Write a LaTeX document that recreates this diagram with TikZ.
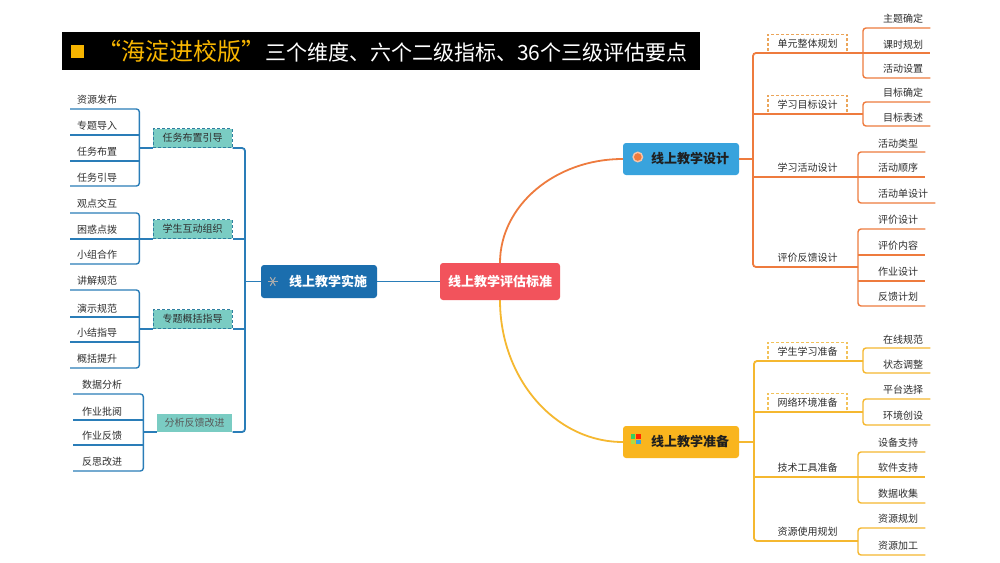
\documentclass[tikz,border=0pt]{standalone}
\usepackage{fontspec}
\setmainfont{Noto Sans CJK SC}
\usetikzlibrary{calc}
\pgfdeclarelayer{background}
\pgfdeclarelayer{paper}
\pgfsetlayers{paper,background,main}
\definecolor{cGold}{HTML}{F7B500}
\definecolor{cRed}{HTML}{F2535C}
\definecolor{cBlueNode}{HTML}{1B6EAE}
\definecolor{cBlueLine}{HTML}{2A7DB8}
\definecolor{cSky}{HTML}{38A3DD}
\definecolor{cYelNode}{HTML}{F9B51E}
\definecolor{cOrange}{HTML}{EE7B3E}
\definecolor{cYel}{HTML}{F5B830}
\definecolor{cTeal}{HTML}{7ACCC3}
\definecolor{cTealDash}{HTML}{2E7FA0}
\definecolor{cOrDash}{HTML}{EBA55A}
\definecolor{cYeDash}{HTML}{F2C25A}
\definecolor{cTxt}{HTML}{2E2E2E}
\begin{document}
\begin{tikzpicture}[x=1pt,y=-1pt,
  bline/.style={draw=cBlueLine, line width=1.8pt},
  bthin/.style={draw=cBlueLine, line width=1.4pt},
  oline/.style={draw=cOrange, line width=1.8pt},
  othin/.style={draw=cOrange, line width=1.4pt},
  yline/.style={draw=cYel, line width=1.8pt},
  ythin/.style={draw=cYel, line width=1.4pt},
  mainnode/.style={rounded corners=3pt, minimum width=116pt, minimum height=33pt, inner sep=0pt, font=\fontsize{13}{15}\selectfont\bfseries},
  leafL/.style={anchor=south west, text width=55pt, inner xsep=7pt, inner ysep=4pt, align=left, text=cTxt, font=\fontsize{10}{12}\selectfont},
  leafLb/.style={leafL, text width=52pt, inner xsep=9pt},
  leafR/.style={anchor=south west, inner xsep=0pt, inner ysep=4pt, text=cTxt, font=\fontsize{10}{12}\selectfont, execute at begin node={\hspace*{20pt}}, execute at end node={\hspace*{7pt}}},
  gboxL/.style={anchor=south, minimum width=79pt, minimum height=19pt, inner sep=0pt, fill=cTeal, draw=cTealDash, dash pattern=on 3pt off 2pt, line width=1pt, text=cTxt, font=\fontsize{10}{12}\selectfont},
  gboxR/.style={anchor=south, minimum width=79pt, minimum height=18pt, inner sep=0pt, fill=white, dash pattern=on 3pt off 2pt, line width=1.2pt, text=cTxt, font=\fontsize{10}{12}\selectfont},
  gtext/.style={anchor=south, minimum width=79pt, minimum height=18pt, inner sep=0pt, text=cTxt, font=\fontsize{10}{12}\selectfont}
]
\useasboundingbox (0,0) rectangle (1000,562);
\begin{pgfonlayer}{paper}
\fill[white] (0,0) rectangle (1000,562);
\end{pgfonlayer}

% title
\node[fill=black, minimum width=638pt, minimum height=38pt, inner sep=0pt, anchor=north west] (bar) at (62,32) {};
\node[fill=cGold, minimum size=13pt, inner sep=0pt] (sq) at (77,51) {};
\node[anchor=west, inner sep=0pt] (ttl) at (97,51) {\textcolor{cGold}{\fontsize{24}{27}\selectfont\addfontfeature{RawFeature=+fwid}“海淀进校版”}\textcolor{white}{\fontsize{21}{24}\selectfont 三个维度、六个二级指标、36个三级评估要点}};

% main nodes
\node[mainnode, minimum width=120pt, minimum height=37pt, fill=cRed, text=white] (C) at (500,281.5) {线上教学评估标准};
\node[mainnode, fill=cBlueNode, text=white] (L) at (319,281.5) {\hspace*{18pt}线上教学实施};
\node[mainnode, minimum height=32pt, fill=cSky, text=black!88] (T) at (681,159) {\hspace*{18pt}线上教学设计};
\node[mainnode, minimum height=32pt, fill=cYelNode, text=black!88] (B) at (681,442) {\hspace*{18pt}线上教学准备};

% icons
\coordinate (Li) at ($(L.west)+(12,0)$);
\foreach \a in {0,60,120} \draw[gray!65, line width=1pt] ($(Li)+(\a:5pt)$) -- ($(Li)+(\a+180:5pt)$);
\coordinate (Ti) at ($(T.west)+(15,-2)$);
\fill[cOrange!45] (Ti) circle (5.5pt);
\fill[cOrange] (Ti) circle (3.8pt);
\coordinate (Bi) at ($(B.west)+(13,-3)$);
\fill[green!55!teal!80] ($(Bi)+(-5,-5)$) rectangle ++(4.5,4.5);
\fill[red!70!orange] ($(Bi)+(0.5,-5)$) rectangle ++(4.5,4.5);
\fill[yellow!60!green!80] ($(Bi)+(-5,0.5)$) rectangle ++(4.5,4.5);
\fill[cSky] ($(Bi)+(0.5,0.5)$) rectangle ++(4.5,4.5);

% ---------- left side ----------
\node[leafL] (a1) at (70,109) {资源发布};
\node[leafL] (a2) at (70,135) {专题导入};
\node[leafL] (a3) at (70,161) {任务布置};
\node[leafL] (a4) at (70,186) {任务引导};
\node[leafL] (b1) at (70,213) {观点交互};
\node[leafL] (b2) at (70,239) {困惑点拨};
\node[leafL] (b3) at (70,264) {小组合作};
\node[leafL] (c1) at (70,290) {讲解规范};
\node[leafL] (c2) at (70,317) {演示规范};
\node[leafL] (c3) at (70,342) {小结指导};
\node[leafL] (c4) at (70,368) {概括提升};
\node[leafLb] (d1) at (73,394) {数据分析};
\node[leafLb] (d2) at (73,420) {作业批阅};
\node[leafLb] (d3) at (73,445) {作业反馈};
\node[leafLb] (d4) at (73,471) {反思改进};

\node[gboxL] (g1) at (192.5,148) {任务布置引导};
\node[gboxL] (g2) at (192.5,239) {学生互动组织};
\node[gboxL] (g3) at (192.5,329) {专题概括指导};
\node[gboxL, draw=none, minimum width=75pt, minimum height=18pt, text=black!65] (g4) at (194.5,432) {分析反馈改进};

\coordinate (LVt) at (245,148);
\coordinate (LVb) at (245,432);

\begin{pgfonlayer}{background}
\draw[bline] (C.west) -- (L.east);
\draw[bline] (L.west) -- (L.west -| LVt);
\draw[bline, rounded corners=3pt] (g1.south east) -- (LVt) -- (LVb) -- (g4.south east);
\draw[bline] (g2.south east) -- (g2.south east -| LVt);
\draw[bline] (g3.south east) -- (g3.south east -| LVt);
\draw[bthin] (g1.south west) -- (g1.south west -| a1.south east);
\draw[bthin] (g2.south west) -- (g2.south west -| b1.south east);
\draw[bthin] (g3.south west) -- (g3.south west -| c1.south east);
\draw[bthin] (g4.south west) -- (g4.south west -| d1.south east);
\draw[bthin, rounded corners=3pt] (a1.south west) -- (a1.south east) -- (a4.south east) -- (a4.south west);
\draw[bthin] (a2.south west) -- (a2.south east);
\draw[bthin] (a3.south west) -- (a3.south east);
\draw[bthin, rounded corners=3pt] (b1.south west) -- (b1.south east) -- (b3.south east) -- (b3.south west);
\draw[bthin] (b2.south west) -- (b2.south east);
\draw[bthin, rounded corners=3pt] (c1.south west) -- (c1.south east) -- (c4.south east) -- (c4.south west);
\draw[bthin] (c2.south west) -- (c2.south east);
\draw[bthin] (c3.south west) -- (c3.south east);
\draw[bthin, rounded corners=3pt] (d1.south west) -- (d1.south east) -- (d4.south east) -- (d4.south west);
\draw[bthin] (d2.south west) -- (d2.south east);
\draw[bthin] (d3.south west) -- (d3.south east);
% curves
\draw[oline] (C.north) .. controls +(0,-57) and +(-68,0) .. (T.west);
\draw[yline] (C.south) .. controls +(0,78) and +(-68,0) .. (B.west);
\end{pgfonlayer}

% ---------- right top ----------
\node[leafR] (e1) at (863,28) {主题确定};
\node[leafR] (e2) at (863,53) {课时规划};
\node[leafR] (e3) at (863,78) {活动设置};
\node[leafR] (f1) at (863,102) {目标确定};
\node[leafR] (f2) at (863,126) {目标表述};
\node[leafR] (h1) at (858,152) {活动类型};
\node[leafR] (h2) at (858,177) {活动顺序};
\node[leafR] (h3) at (858,203) {活动单设计};
\node[leafR] (i1) at (858,229) {评价设计};
\node[leafR] (i2) at (858,255) {评价内容};
\node[leafR] (i3) at (858,281) {作业设计};
\node[leafR] (i4) at (858,306) {反馈计划};

\node[gboxR, draw=cOrDash] (r1) at (807.5,53) {单元整体规划};
\node[gboxR, draw=cOrDash] (r2) at (807.5,114) {学习目标设计};
\node[gtext] (r3) at (807.5,177) {学习活动设计};
\node[gtext] (r4) at (807.5,267) {评价反馈设计};

\coordinate (RVt) at (753,53);
\coordinate (RVb) at (753,267);
\draw[oline] (T.east) -- (T.east -| RVt);
\draw[oline, rounded corners=3pt] (e2.south west) -- (RVt) -- (RVb) -- (r4.south -| i1.south west);
\draw[oline] (r2.south -| RVt) -- (r2.south -| f1.south west);
\draw[oline] (r3.south -| RVt) -- (h2.south west);
\draw[othin, rounded corners=3pt] (e1.south east) -- (e1.south west) -- (e3.south west) -- (e3.south east);
\draw[othin] (e2.south west) -- (e2.south east);
\draw[othin, rounded corners=3pt] (f1.south east) -- (f1.south west) -- (f2.south west) -- (f2.south east);
\draw[othin, rounded corners=3pt] (h1.south east) -- (h1.south west) -- (h3.south west) -- (h3.south east);
\draw[othin] (h2.south west) -- (h2.south east);
\draw[othin, rounded corners=3pt] (i1.south east) -- (i1.south west) -- (i4.south west) -- (i4.south east);
\draw[othin] (i2.south west) -- (i2.south east);
\draw[othin] (i3.south west) -- (i3.south east);

% ---------- right bottom ----------
\node[leafR] (j1) at (863,348) {在线规范};
\node[leafR] (j2) at (863,373) {状态调整};
\node[leafR] (k1) at (863,399) {平台选择};
\node[leafR] (k2) at (863,425) {环境创设};
\node[leafR] (m1) at (858,452) {设备支持};
\node[leafR] (m2) at (858,477) {软件支持};
\node[leafR] (m3) at (858,503) {数据收集};
\node[leafR] (n1) at (858,528) {资源规划};
\node[leafR] (n2) at (858,555) {资源加工};

\node[gboxR, draw=cYeDash] (s1) at (807.5,361) {学生学习准备};
\node[gboxR, draw=cYeDash] (s2) at (807.5,412) {网络环境准备};
\node[gtext] (s3) at (807.5,477) {技术工具准备};
\node[gtext] (s4) at (807.5,541) {资源使用规划};

\coordinate (SVt) at (754,361);
\coordinate (SVb) at (754,541);
\draw[yline] (B.east) -- (B.east -| SVt);
\draw[yline, rounded corners=3pt] (s1.south -| j1.south west) -- (SVt) -- (SVb) -- (s4.south -| n1.south west);
\draw[yline] (s2.south -| SVt) -- (s2.south -| k1.south west);
\draw[yline] (s3.south -| SVt) -- (m2.south west);
\draw[ythin, rounded corners=3pt] (j1.south east) -- (j1.south west) -- (j2.south west) -- (j2.south east);
\draw[ythin, rounded corners=3pt] (k1.south east) -- (k1.south west) -- (k2.south west) -- (k2.south east);
\draw[ythin, rounded corners=3pt] (m1.south east) -- (m1.south west) -- (m3.south west) -- (m3.south east);
\draw[ythin] (m2.south west) -- (m2.south east);
\draw[ythin, rounded corners=3pt] (n1.south east) -- (n1.south west) -- (n2.south west) -- (n2.south east);
\end{tikzpicture}
\end{document}
